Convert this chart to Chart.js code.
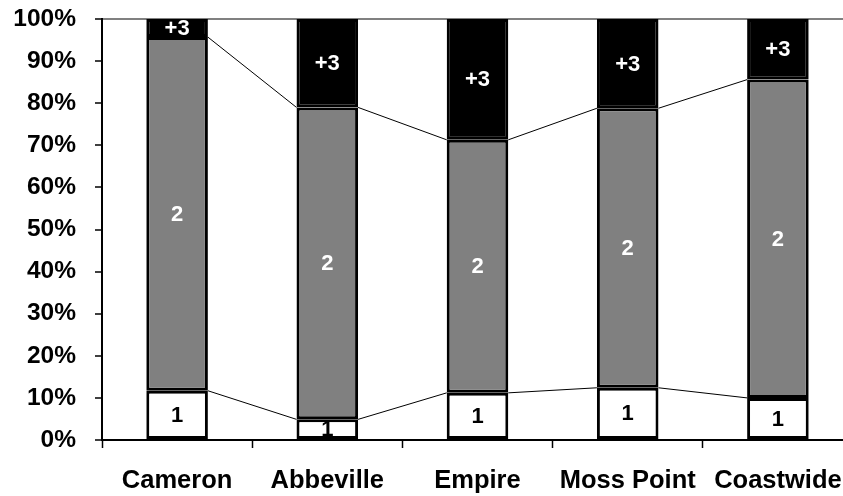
<!DOCTYPE html>
<html>
<head>
<meta charset="utf-8">
<script src="https://cdn.jsdelivr.net/npm/chart.js@4/dist/chart.umd.min.js"></script>
<style>
  html, body { margin: 0; padding: 0; background: #fff; overflow: hidden; }
  #wrap { position: absolute; left: 0; top: 0; width: 855px; height: 496px; }
</style>
</head>
<body>
<div id="wrap"><canvas id="c"></canvas></div>
<script>
// Share of each class per site (percent of total, stacks to 100)
const categories = ['Cameron', 'Abbeville', 'Empire', 'Moss Point', 'Coastwide'];
const seriesLabels = ['1', '2', '+3'];
const class1 = [11.7, 4.9, 11.2, 12.4, 10.0];
const class2 = [84.0, 74.1, 60.1, 66.4, 75.6];
const class3 = [4.3, 21.0, 28.7, 21.2, 14.4];
const yTicks = [0, 10, 20, 30, 40, 50, 60, 70, 80, 90, 100];

const FONT = '"Liberation Sans", Arial, Helvetica, sans-serif';

const fills = ['#ffffff', '#808080', '#000000'];
const labelColors = ['#000000', '#ffffff', '#ffffff'];

// Connector lines joining the top of each stacked segment between adjacent bars
const seriesLines = {
  id: 'seriesLines',
  afterDatasetsDraw(chart) {
    const ctx = chart.ctx;
    ctx.save();
    ctx.strokeStyle = '#000';
    ctx.lineWidth = 1;
    chart.data.datasets.forEach((ds, di) => {
      if (di === chart.data.datasets.length - 1) return;
      const meta = chart.getDatasetMeta(di);
      for (let i = 0; i < meta.data.length - 1; i++) {
        const a = meta.data[i], b = meta.data[i + 1];
        ctx.beginPath();
        ctx.moveTo(a.x + a.width / 2, a.y);
        ctx.lineTo(b.x - b.width / 2, b.y);
        ctx.stroke();
      }
    });
    ctx.restore();
  }
};

// Series name written in the middle of each segment
const segmentLabels = {
  id: 'segmentLabels',
  afterDatasetsDraw(chart) {
    const ctx = chart.ctx;
    ctx.save();
    ctx.font = 'bold 22px ' + FONT;
    ctx.textAlign = 'center';
    ctx.textBaseline = 'middle';
    chart.data.datasets.forEach((ds, di) => {
      const meta = chart.getDatasetMeta(di);
      ctx.fillStyle = labelColors[di];
      meta.data.forEach(el => {
        ctx.fillText(seriesLabels[di], el.x, (el.y + el.base) / 2 + 1);
      });
    });
    ctx.restore();
  }
};

const seriesData = [class1, class2, class3];

new Chart(document.getElementById('c'), {
  type: 'bar',
  data: {
    labels: categories,
    datasets: seriesData.map((vals, i) => ({
      label: seriesLabels[i],
      data: vals,
      backgroundColor: fills[i],
      borderColor: '#000',
      borderWidth: 3,
      borderSkipped: false,
      barPercentage: 0.41,
      categoryPercentage: 1.0
    }))
  },
  options: {
    responsive: true,
    maintainAspectRatio: false,
    animation: false,
    layout: { padding: { top: 19, right: 2, bottom: 0, left: 0 } },
    plugins: { legend: { display: false }, tooltip: { enabled: false } },
    scales: {
      x: {
        stacked: true,
        afterFit(scale) {
          scale.height = 56;
          scale.paddingLeft = 0;
          scale.paddingRight = 0;
        },
        grid: {
          offset: true,
          drawOnChartArea: false,
          drawTicks: true,
          tickLength: 8,
          tickColor: '#000',
          tickWidth: 1.5
        },
        border: { color: '#000', width: 2 },
        ticks: {
          color: '#000',
          padding: 18,
          font: { family: FONT, size: 25.5, weight: 'bold' }
        }
      },
      y: {
        stacked: true,
        min: 0,
        max: 100,
        afterFit(scale) {
          scale.width = 102;
          scale.paddingTop = 0;
          scale.paddingBottom = 0;
        },
        afterBuildTicks(scale) { scale.ticks = yTicks.map(v => ({ value: v })); },
        grid: {
          color: ctx => (ctx.tick && ctx.tick.value === 100 ? '#808080' : 'rgba(0,0,0,0)'),
          lineWidth: 2,
          drawTicks: true,
          tickLength: 7,
          tickColor: '#000',
          tickWidth: 1.5
        },
        border: { color: '#000', width: 2 },
        ticks: {
          color: '#000',
          padding: 19,
          font: { family: FONT, size: 24.5, weight: 'bold' },
          callback: v => v + '%'
        }
      }
    }
  },
  plugins: [seriesLines, segmentLabels]
});
</script>
</body>
</html>
